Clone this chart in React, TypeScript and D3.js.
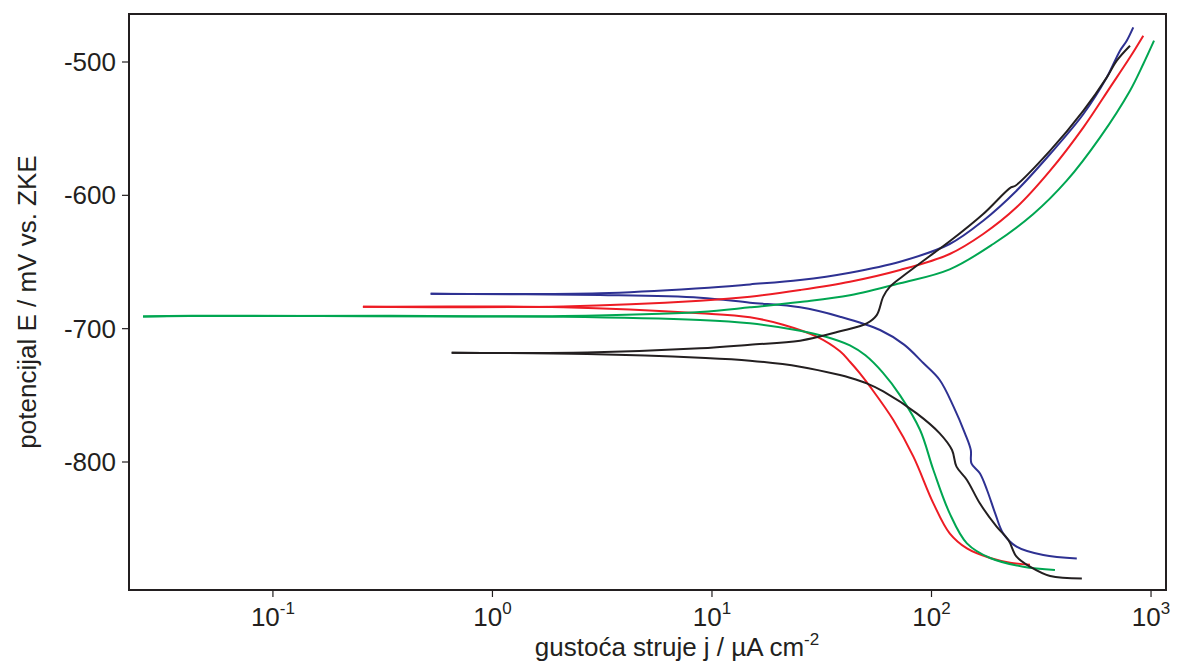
import React from "react";
import * as d3 from "d3";

// current density j (µA cm^-2), potential E (mV vs. ZKE)
const blueCathodic: [number, number][] = [
  [459, -872.3], [323, -869.8], [244, -863.5], [212, -853.5], [195, -838.5], [179, -821],
  [166, -808.5], [152, -801], [151, -791], [142, -778.5], [126, -758.5], [109, -738.5],
  [92, -726], [75, -712], [58.3, -701], [38.3, -691], [25.2, -684], [14.9, -680.5],
  [8.82, -676.8], [3.09, -674.8], [0.523, -673.8],
];
const blueAnodic: [number, number][] = [
  [0.523, -673.8], [3.09, -673.5], [8.82, -669.7], [14.9, -666.8], [25.2, -663.5],
  [42.5, -658], [71.9, -649.8], [121, -636.5], [172, -619], [244, -596.5], [347, -569],
  [492, -539], [629, -511.5], [722, -491.5], [775, -484], [830, -474],
];
const redCathodic: [number, number][] = [
  [281, -877], [228, -875.5], [185, -872], [145, -864.8], [121, -853.5], [102, -831],
  [82.7, -796], [67.0, -768.5], [52.5, -743.5], [47.2, -733.5], [42.5, -724.8], [38.3, -717],
  [30.0, -706], [21.1, -697], [14.9, -691.5], [8.82, -688.5], [2.1, -684], [0.257, -683.5],
];
const redAnodic: [number, number][] = [
  [0.257, -683.5], [2.1, -683.3], [8.82, -679], [14.9, -676], [25.2, -671], [42.5, -664.8],
  [71.9, -656], [121, -644], [172, -629], [244, -609], [347, -581.5], [492, -549],
  [651, -519], [802, -496.5], [922, -480.3],
];
const greenCathodic: [number, number][] = [
  [365, -881], [262, -878.5], [185, -872], [145, -861], [121, -838.5], [102, -806],
  [88.7, -776], [71.9, -750], [60.0, -733], [50.0, -720], [42.5, -712.5],
  [33.0, -706], [25.2, -701.5], [14.9, -696], [8.82, -693.5], [2.1, -691], [0.0428, -690.5],
  [0.0256, -690.8],
];
const greenAnodic: [number, number][] = [
  [0.0256, -690.8], [0.0428, -690.3], [2.1, -690.5], [8.82, -687.5], [14.9, -684],
  [25.2, -680], [42.5, -675], [71.9, -666], [121, -655.5], [191, -636.5], [291, -614],
  [413, -589], [586, -556.5], [802, -521.5], [922, -501.5], [1032, -484],
];
const blackCathodic: [number, number][] = [
  [484, -887.3], [347, -885.5], [281, -878.5], [244, -871], [224, -858.5], [198, -848.5],
  [166, -831], [145, -813.5], [130, -803.5], [124, -791], [109, -778.5], [85.6, -763.5],
  [60.3, -747], [50.7, -741], [42.5, -736.8], [38.3, -734.8], [25.2, -728.5], [14.9, -724],
  [8.82, -721.8], [2.7, -719], [0.652, -718],
];
const blackAnodic: [number, number][] = [
  [0.652, -718], [2.7, -717.8], [8.82, -714.7], [14.9, -712], [25.2, -709], [38.3, -702],
  [50.7, -696], [56.3, -689.8], [60.3, -676], [64.7, -668.5], [77.1, -658.5], [102, -643.5],
  [121, -634.5], [172, -614], [230, -594], [240, -593], [347, -566.5], [492, -536.5],
  [629, -511.5], [698, -499], [802, -487.8],
];

const xTicks = [0.1, 1, 10, 100, 1000];
const xTickExp = ["-1", "0", "1", "2", "3"];
const yTicks = [-500, -600, -700, -800];

const series = [
  { name: "blue", color: "#2e3192", cath: blueCathodic, anod: blueAnodic },
  { name: "red", color: "#ed1c24", cath: redCathodic, anod: redAnodic },
  { name: "green", color: "#00a651", cath: greenCathodic, anod: greenAnodic },
  { name: "black", color: "#231f20", cath: blackCathodic, anod: blackAnodic },
];

const W = 1182;
const H = 663;
const L = 129, R = 1166, T = 14, B = 590;

export default function App() {
  const x = d3.scaleLog().domain([0.0221, 1170]).range([L, R]);
  const y = d3.scaleLinear().domain([-896, -464]).range([B, T]);
  const line = d3
    .line<[number, number]>()
    .x((d) => x(d[0]))
    .y((d) => y(d[1]))
    .curve(d3.curveCatmullRom.alpha(0.5));
  const font = "'Liberation Sans', Arial, sans-serif";
  const axisColor = "#231f20";
  return (
    <svg
      width={W}
      height={H}
      style={{ position: "absolute", left: 0, top: 0, background: "#fff" }}
      fontFamily={font}
    >
      <rect x={0} y={0} width={W} height={H} fill="#fff" />
      <defs>
        <clipPath id="plot">
          <rect x={L} y={T} width={R - L} height={B - T} />
        </clipPath>
      </defs>
      <g clipPath="url(#plot)">
        {series.map((s) => (
          <g key={s.name}>
            <path d={line(s.cath) || ""} fill="none" stroke={s.color} strokeWidth={2} />
            <path d={line(s.anod) || ""} fill="none" stroke={s.color} strokeWidth={2} />
          </g>
        ))}
      </g>
      <rect x={L} y={T} width={R - L} height={B - T} fill="none" stroke={axisColor} strokeWidth={2} />
      {yTicks.map((t) => (
        <g key={t}>
          <line x1={L - 7} x2={L} y1={y(t)} y2={y(t)} stroke={axisColor} strokeWidth={1.2} />
          <text x={L - 13} y={y(t)} dy="0.35em" textAnchor="end" fontSize={26} fill={axisColor}>
            {t}
          </text>
        </g>
      ))}
      {xTicks.map((t, i) => (
        <g key={t}>
          <line x1={x(t)} x2={x(t)} y1={B} y2={B + 7} stroke={axisColor} strokeWidth={1.2} />
          <text x={x(t)} y={626} textAnchor="middle" fontSize={26} fill={axisColor}>
            10
            <tspan dy={-12} fontSize={17}>{xTickExp[i]}</tspan>
          </text>
        </g>
      ))}
      <text x={677} y={656} textAnchor="middle" fontSize={26} fill={axisColor}>
        gustoća struje j / µA cm
        <tspan dy={-11} fontSize={17}>-2</tspan>
      </text>
      <text
        transform={`translate(36, ${(T + B) / 2}) rotate(-90)`}
        textAnchor="middle"
        fontSize={26}
        fill={axisColor}
      >
        potencijal E / mV vs. ZKE
      </text>
    </svg>
  );
}
